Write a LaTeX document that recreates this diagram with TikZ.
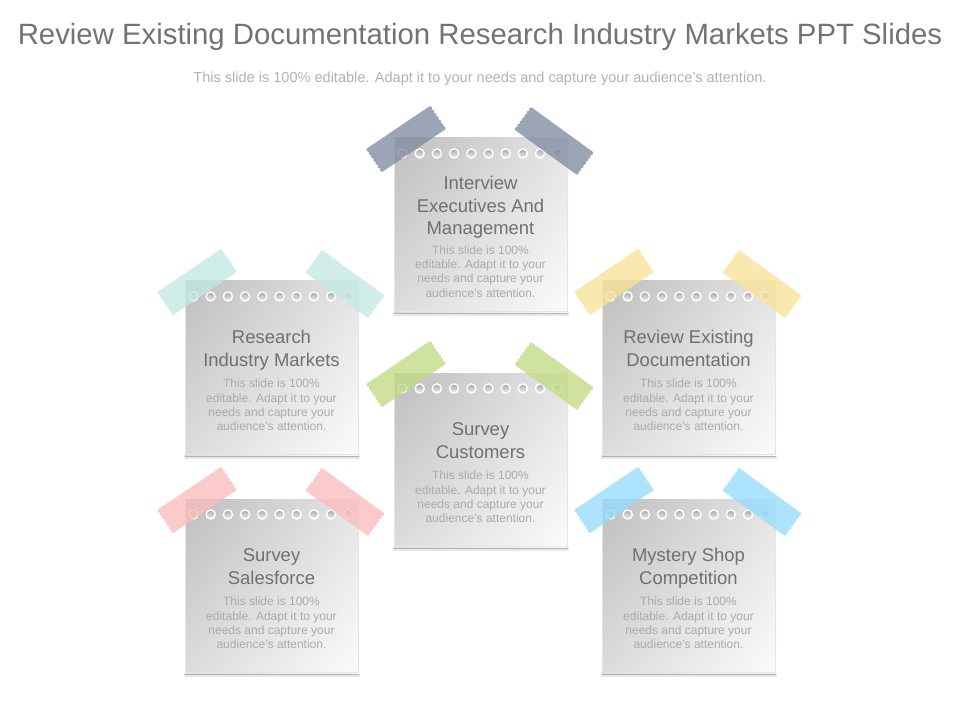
\documentclass[tikz,border=0pt]{standalone}
\usepackage{fontspec}
\usetikzlibrary{shadings}
\setmainfont{Liberation Sans}
\definecolor{tDark}{HTML}{818CA2}
\definecolor{tTeal}{HTML}{C4E8E3}
\definecolor{tYellow}{HTML}{F9E498}
\definecolor{tGreen}{HTML}{C2DC84}
\definecolor{tPink}{HTML}{FABDBD}
\definecolor{tBlue}{HTML}{96DCFC}
\definecolor{titleGray}{HTML}{707070}
\definecolor{bodyGray}{HTML}{ABABAB}
\definecolor{cardTL}{HTML}{BEBEBE}
\definecolor{cardTR}{HTML}{E4E4E4}
\definecolor{cardBL}{HTML}{DCDCDC}
\definecolor{cardBR}{HTML}{FBFBFB}
\tikzset{
  cardtitle/.style={text=titleGray,align=center,anchor=base,font=\fontsize{13.85}{16.9}\selectfont,inner sep=0pt},
  cardbody/.style={text=bodyGray,align=center,anchor=base,font=\fontsize{9}{10.65}\selectfont,inner sep=0pt},
  tapefill/.style={fill=#1,fill opacity=.78},
}
% tape: centre x, centre y, angle, colour
\newcommand{\tapestrip}[4]{%
  \begin{scope}[shift={(#1,#2)},rotate=#3]
    \fill[tapefill=#4] (-38,-14)
      -- (38,-14)
      \foreach \k in {0,...,6}{ -- ({38+1.2},{-14+4*\k+2}) -- (38,{-14+4*\k+4}) }
      -- (-38,14)
      \foreach \k in {0,...,6}{ -- ({-38-1.2},{14-4*\k-2}) -- (-38,{14-4*\k-4}) }
      -- cycle;
  \end{scope}}
% card: left x, top y, colour, name, title, title last baseline offset, body last baseline offset
\newcommand{\notecard}[7]{%
  \begin{scope}[shift={(#1,#2)}]
    \fill[black!9] (-1,174) rectangle (175,177.5);
    \fill[black!30] (0,174) rectangle (174,175.5);
    \shade[upper left=cardTL,upper right=cardTR,lower left=cardBL,lower right=cardBR] (0,0) rectangle (174,174);
    \draw[white!90!black,line width=.5pt] (.5,0) -- (.5,173.7) -- (173.7,173.7) -- (173.7,0);
    \foreach \k in {0,...,9}{
      \fill[white] ({8.5+17.2*\k},15.5) circle (5.3);
      \shade[top color=black!32,bottom color=black!8] ({8.5+17.2*\k},15.5) circle (3.7);
    }
    \node[cardtitle] (#4t) at (86.5,#6) {#5};
    \node[cardbody] (#4b) at (86.5,#7) {This slide is 100\%\\editable. Adapt it to your\\needs and capture your\\audience's attention.};
  \end{scope}
  \tapestrip{#1+12}{#2+1}{34}{#3}
  \tapestrip{#1+160}{#2+3}{-36}{#3}}
\begin{document}
\begin{tikzpicture}[x=.75pt,y=-.75pt]
\useasboundingbox (0,0) rectangle (960,720);
\fill[white] (0,0) rectangle (960,720);
\node[text=black!55,inner sep=0pt,font=\fontsize{22}{26}\selectfont] (pagetitle) at (480,36.5) {Review Existing Documentation Research Industry Markets PPT Slides};
\node[text=black!30,inner sep=0pt,font=\fontsize{10.9}{13}\selectfont] (pagesub) at (480,78.5) {This slide is 100\% editable. Adapt it to your needs and capture your audience's attention.};
\notecard{394}{138}{tDark}{top}{Interview\\Executives And\\Management}{97}{159}
\notecard{185}{281}{tTeal}{research}{Research\\Industry Markets}{85}{149.5}
\notecard{602}{281}{tYellow}{review}{Review Existing\\Documentation}{85}{149.5}
\notecard{394}{373}{tGreen}{customers}{Survey\\Customers}{85}{149.5}
\notecard{185}{499}{tPink}{sales}{Survey\\Salesforce}{85}{149.5}
\notecard{602}{499}{tBlue}{mystery}{Mystery Shop\\Competition}{85}{149.5}
\end{tikzpicture}
\end{document}
